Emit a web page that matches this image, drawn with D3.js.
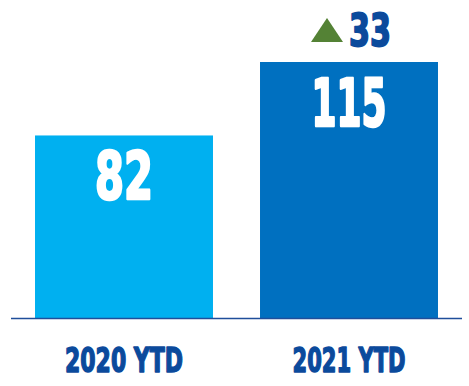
<!DOCTYPE html>
<html>
<head>
<meta charset="utf-8">
<script src="https://cdn.jsdelivr.net/npm/d3@7"></script>
<style>
  body { margin: 0; background: #fff; }
  svg text { font-family: "Liberation Sans Narrow", "DejaVu Sans Condensed", "Arial Narrow", sans-serif; font-weight: bold; }
</style>
</head>
<body>
<svg width="469" height="386"></svg>
<script>
// chart data
const categories = ["2020 YTD", "2021 YTD"];
const values = [82, 115];
const barColors = ["#00B0F0", "#0070C0"];
const change = 33;

const width = 469, height = 386;
const svg = d3.select("svg");

const x = d3.scaleBand()
    .domain(categories)
    .range([11.5, 461.5])
    .paddingInner(0.209)
    .paddingOuter(0.1045);

const y = d3.scaleLinear()
    .domain([0, 115])
    .range([318, 62]);

const darkBlue = "#0B4A9C";

// bars
svg.selectAll("rect.bar")
    .data(values)
    .enter()
    .append("rect")
    .attr("class", "bar")
    .attr("x", (d, i) => x(categories[i]))
    .attr("y", d => y(d))
    .attr("width", x.bandwidth())
    .attr("height", d => y(0) - y(d))
    .attr("fill", (d, i) => barColors[i]);

// baseline
svg.append("line")
    .attr("x1", 11).attr("x2", 462)
    .attr("y1", y(0) + 0.5).attr("y2", y(0) + 0.5)
    .attr("stroke", "#1F4E9A")
    .attr("stroke-width", 1.3);

// value labels inside bars
const valueWidths = [58, 75];
svg.selectAll("text.value")
    .data(values)
    .enter()
    .append("text")
    .attr("class", "value")
    .attr("x", (d, i) => x(categories[i]) + x.bandwidth() / 2)
    .attr("y", d => y(d) + 64)
    .attr("text-anchor", "middle")
    .attr("font-size", 65)
    .attr("fill", "#fff")
    .attr("stroke", "#fff")
    .attr("stroke-width", 2.6)
    .attr("stroke-linejoin", "round")
    .attr("textLength", (d, i) => valueWidths[i])
    .attr("lengthAdjust", "spacingAndGlyphs")
    .text(d => d);

// category labels
svg.selectAll("text.cat")
    .data(categories)
    .enter()
    .append("text")
    .attr("class", "cat")
    .attr("x", d => x(d) + x.bandwidth() / 2)
    .attr("y", 371.5)
    .attr("text-anchor", "middle")
    .attr("font-size", 33)
    .attr("fill", darkBlue)
    .attr("stroke", darkBlue)
    .attr("stroke-width", 1.4)
    .attr("stroke-linejoin", "round")
    .attr("textLength", (d, i) => i === 0 ? 118 : 113)
    .attr("lengthAdjust", "spacingAndGlyphs")
    .text(d => d);

// change indicator above the second bar
const cx = x(categories[1]) + x.bandwidth() / 2;
svg.append("path")
    .attr("d", d3.line()([[cx - 38, 42], [cx - 22, 18], [cx - 6, 42]]) + "Z")
    .attr("fill", "#548235");

svg.append("text")
    .attr("x", cx)
    .attr("y", 45.5)
    .attr("font-size", 45)
    .attr("fill", darkBlue)
    .attr("stroke", darkBlue)
    .attr("stroke-width", 1.8)
    .attr("stroke-linejoin", "round")
    .attr("textLength", 42)
    .attr("lengthAdjust", "spacingAndGlyphs")
    .text(change);
</script>
</body>
</html>
